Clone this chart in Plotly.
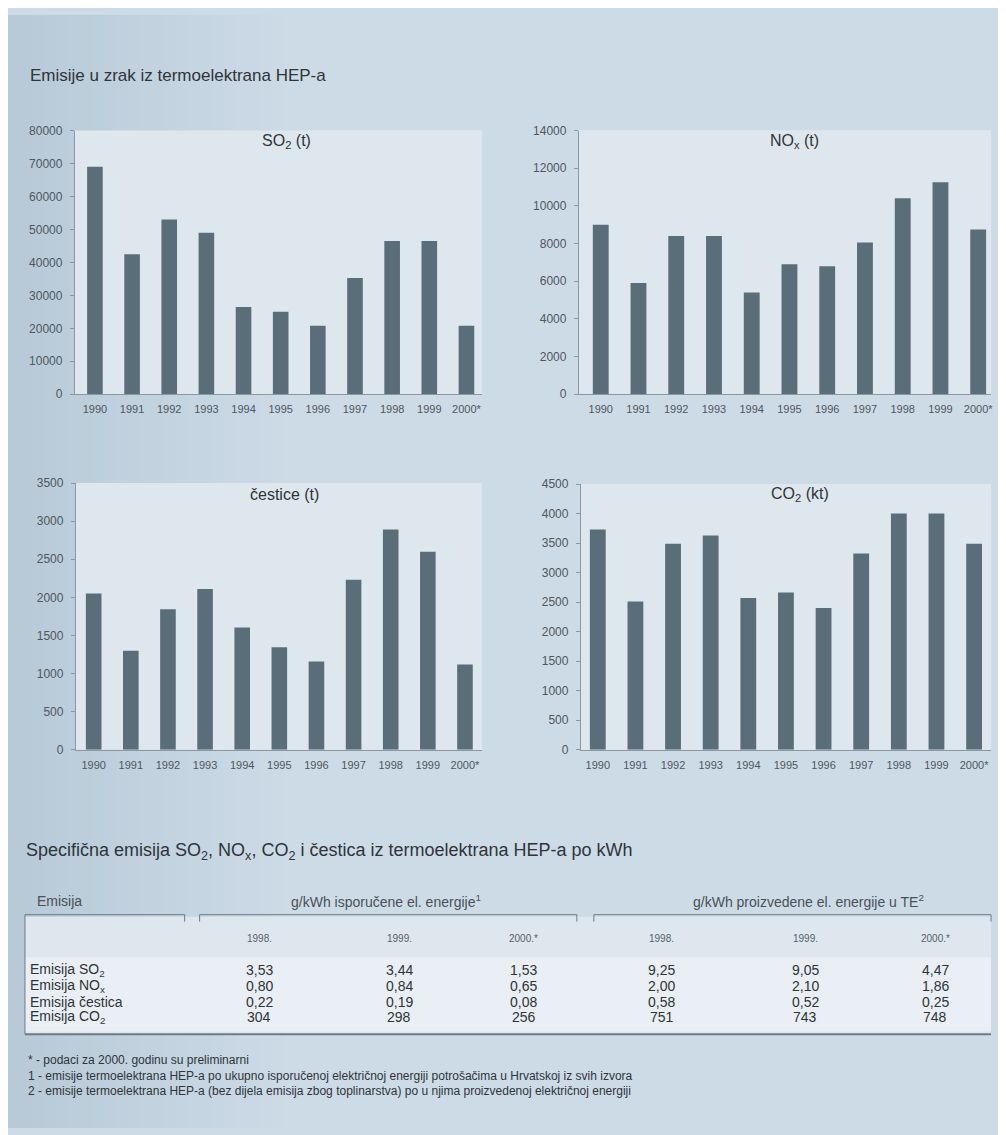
import plotly.graph_objects as go

# page is drawn with the browser's default 8px body margin, so the figure
# is sized to fill the rest of the 1006x1135 window
OFF = 8
W, H = 1006 - OFF, 1135 - OFF

# ---------------- data ----------------
years = ["1990", "1991", "1992", "1993", "1994", "1995", "1996", "1997", "1998", "1999", "2000*"]
so2_t = [69000, 42500, 53000, 49000, 26500, 25000, 20800, 35300, 46500, 46500, 20800]
nox_t = [9000, 5900, 8400, 8400, 5400, 6900, 6800, 8050, 10400, 11250, 8750]
cestice_t = [2050, 1300, 1845, 2110, 1605, 1345, 1160, 2230, 2890, 2600, 1120]
co2_kt = [3730, 2510, 3490, 3630, 2570, 2665, 2400, 3325, 4000, 4000, 3490]

chart_titles = ["SO<sub>2</sub> (t)", "NO<sub>x</sub> (t)", "čestice (t)", "CO<sub>2</sub> (kt)"]
y_max = [80000, 14000, 3500, 4500]
y_step = [10000, 2000, 500, 500]

main_title = "Emisije u zrak iz termoelektrana HEP-a"
table_title = "Specifična emisija SO<sub>2</sub>, NO<sub>x</sub>, CO<sub>2</sub> i čestica iz termoelektrana HEP-a po kWh"
table_group_headers = ["g/kWh isporučene el. energije<sup>1</sup>", "g/kWh proizvedene el. energije u TE<sup>2</sup>"]
table_first_header = "Emisija"
table_years = ["1998.", "1999.", "2000.*", "1998.", "1999.", "2000.*"]
table_row_labels = ["Emisija SO<sub>2</sub>", "Emisija NO<sub>x</sub>", "Emisija čestica", "Emisija CO<sub>2</sub>"]
table_values = [
    [3.53, 3.44, 1.53, 9.25, 9.05, 4.47],
    [0.80, 0.84, 0.65, 2.00, 2.10, 1.86],
    [0.22, 0.19, 0.08, 0.58, 0.52, 0.25],
    [304, 298, 256, 751, 743, 748],
]
footnotes = [
    "* - podaci za 2000. godinu su preliminarni",
    "1 - emisije termoelektrana HEP-a po ukupno isporučenoj električnoj energiji potrošačima u Hrvatskoj iz svih izvora",
    "2 - emisije termoelektrana HEP-a (bez dijela emisija zbog toplinarstva) po u njima proizvedenoj električnoj energiji",
]

# ---------------- style ----------------
FONT = "Liberation Sans, Arial, sans-serif"
BAR = "#5a6e79"
PANEL = "#dfe7ee"
TXT = "#2f3438"
TICK = "#50565c"
AX = "#8d979f"


def px(x):
    return (x - OFF) / W


def py(y):
    return 1 - (y - OFF) / H


# plot areas in window pixel coordinates: (left, right, top, bottom), x range
areas = [
    (75, 483, 125, 392, (-0.54, 10.42)),
    (580, 993, 125, 392, (-0.58, 10.34)),
    (76, 483, 482, 752, (-0.48, 10.46)),
    (582, 993, 483, 752, (-0.45, 10.45)),
]
series = [so2_t, nox_t, cestice_t, co2_kt]
title_pos = [(287, 136), (796, 136), (285, 494), (802, 494)]

fig = go.Figure()
shapes = []
annotations = []

# background with subtle left-side darkening
BG = (0xcd, 0xdb, 0xe7)
LEFT = (0xb8, 0xca, 0xd8)
n = 24
for i in range(n):
    x0 = OFF + i * 12
    t = i / (n - 1)
    c = tuple(int(LEFT[j] + (BG[j] - LEFT[j]) * t) for j in range(3))
    shapes.append(dict(type="rect", xref="paper", yref="paper", x0=px(x0), x1=px(x0 + 12.5), y0=0, y1=1,
                       fillcolor=f"rgb{c}", line=dict(width=0), layer="below"))

for k in range(4):
    l, r_, t_, b_, xr = areas[k]
    idx = "" if k == 0 else str(k + 1)
    shapes.append(dict(type="rect", xref="paper", yref="paper", x0=px(l), x1=px(r_), y0=py(b_), y1=py(t_),
                       fillcolor=PANEL, line=dict(width=0), layer="below"))
    fig.add_trace(go.Bar(x=years, y=series[k], marker_color=BAR, marker_line_width=0, width=0.42,
                         xaxis="x" + idx, yaxis="y" + idx, showlegend=False, hoverinfo="x+y"))
    fig.layout["xaxis" + idx] = dict(
        domain=[px(l), px(r_)], anchor="y" + idx, type="category", range=list(xr),
        showline=True, linecolor=AX, linewidth=1, ticks="", showgrid=False, zeroline=False,
        tickfont=dict(family=FONT, size=11, color=TICK), ticklabelstandoff=5, fixedrange=True,
    )
    fig.layout["yaxis" + idx] = dict(
        domain=[py(b_), py(t_)], anchor="x" + idx, range=[0, y_max[k]], dtick=y_step[k], tick0=0,
        tickformat="d", showline=True, linecolor=AX, linewidth=1, ticks="outside", ticklen=4,
        tickcolor=AX, showgrid=False, zeroline=False,
        tickfont=dict(family=FONT, size=12, color=TICK), ticklabelstandoff=5, fixedrange=True,
    )
    tx, ty = title_pos[k]
    annotations.append(dict(text=chart_titles[k], x=px(tx), y=py(ty), xref="paper", yref="paper",
                            showarrow=False, xanchor="center", yanchor="middle",
                            font=dict(family=FONT, size=16, color=TXT)))

# main title
annotations.append(dict(text=main_title, x=px(28), y=py(69), xref="paper", yref="paper", showarrow=False,
                        xanchor="left", yanchor="middle", font=dict(family=FONT, size=17, color=TXT)))

# ---------------- table ----------------
annotations.append(dict(text=table_title, x=px(24), y=py(855), xref="paper", yref="paper", showarrow=False,
                        xanchor="left", yanchor="middle", font=dict(family=FONT, size=18, color=TXT)))

shapes.append(dict(type="rect", xref="paper", yref="paper", x0=px(25), x1=px(993), y0=py(1040), y1=py(921),
                   fillcolor="#dfe7ee", line=dict(width=0), layer="below"))
shapes.append(dict(type="rect", xref="paper", yref="paper", x0=px(25), x1=px(993), y0=py(1037), y1=py(962),
                   fillcolor="#e9eff4", line=dict(width=0), layer="below"))

LINE = dict(color="#6e7a84", width=1)
for (x0, x1, left_tick) in [(25, 185, False), (200, 578, True), (595, 993, True)]:
    shapes.append(dict(type="line", xref="paper", yref="paper", x0=px(x0), x1=px(x1), y0=py(919), y1=py(919), line=LINE))
    shapes.append(dict(type="line", xref="paper", yref="paper", x0=px(x1), x1=px(x1), y0=py(919), y1=py(926), line=LINE))
    if left_tick:
        shapes.append(dict(type="line", xref="paper", yref="paper", x0=px(x0), x1=px(x0), y0=py(919), y1=py(926), line=LINE))
shapes.append(dict(type="line", xref="paper", yref="paper", x0=px(25), x1=px(25), y0=py(919), y1=py(1040), line=LINE))
shapes.append(dict(type="line", xref="paper", yref="paper", x0=px(25), x1=px(993), y0=py(1040), y1=py(1040),
                   line=dict(color="#6e7a84", width=2)))

annotations.append(dict(text=table_first_header, x=px(35), y=py(905), xref="paper", yref="paper", showarrow=False,
                        xanchor="left", yanchor="middle", font=dict(family=FONT, size=14, color="#4a5056")))
for text, cx in zip(table_group_headers, [387, 810]):
    annotations.append(dict(text=text, x=px(cx), y=py(905), xref="paper", yref="paper", showarrow=False,
                            xanchor="center", yanchor="middle", font=dict(family=FONT, size=14, color="#4a5056")))

col_x = [260, 400, 525, 663, 807, 937]
for text, cx in zip(table_years, col_x):
    annotations.append(dict(text=text, x=px(cx), y=py(943), xref="paper", yref="paper", showarrow=False,
                            xanchor="center", yanchor="middle", font=dict(family=FONT, size=10, color="#5a6066")))

row_y = [975, 991, 1007, 1023]
for label, vals, ry in zip(table_row_labels, table_values, row_y):
    annotations.append(dict(text=label, x=px(28), y=py(ry), xref="paper", yref="paper", showarrow=False,
                            xanchor="left", yanchor="middle", font=dict(family=FONT, size=14, color=TXT)))
    for v, cx in zip(vals, col_x):
        s = f"{v:d}" if isinstance(v, int) else f"{v:.2f}".replace(".", ",")
        annotations.append(dict(text=s, x=px(cx), y=py(ry), xref="paper", yref="paper", showarrow=False,
                                xanchor="center", yanchor="middle", font=dict(family=FONT, size=14, color=TXT)))

for i, fn in enumerate(footnotes):
    annotations.append(dict(text=fn, x=px(26), y=py(1066 + 16 * i), xref="paper", yref="paper", showarrow=False,
                            xanchor="left", yanchor="middle", font=dict(family=FONT, size=12, color=TXT)))

fig.update_layout(
    width=W, height=H, margin=dict(l=0, r=0, t=0, b=0, pad=0),
    paper_bgcolor="rgb(205,219,231)", plot_bgcolor=PANEL,
    shapes=shapes, annotations=annotations, showlegend=False,
    font=dict(family=FONT, color=TXT),
)

fig.write_html("out.html")
